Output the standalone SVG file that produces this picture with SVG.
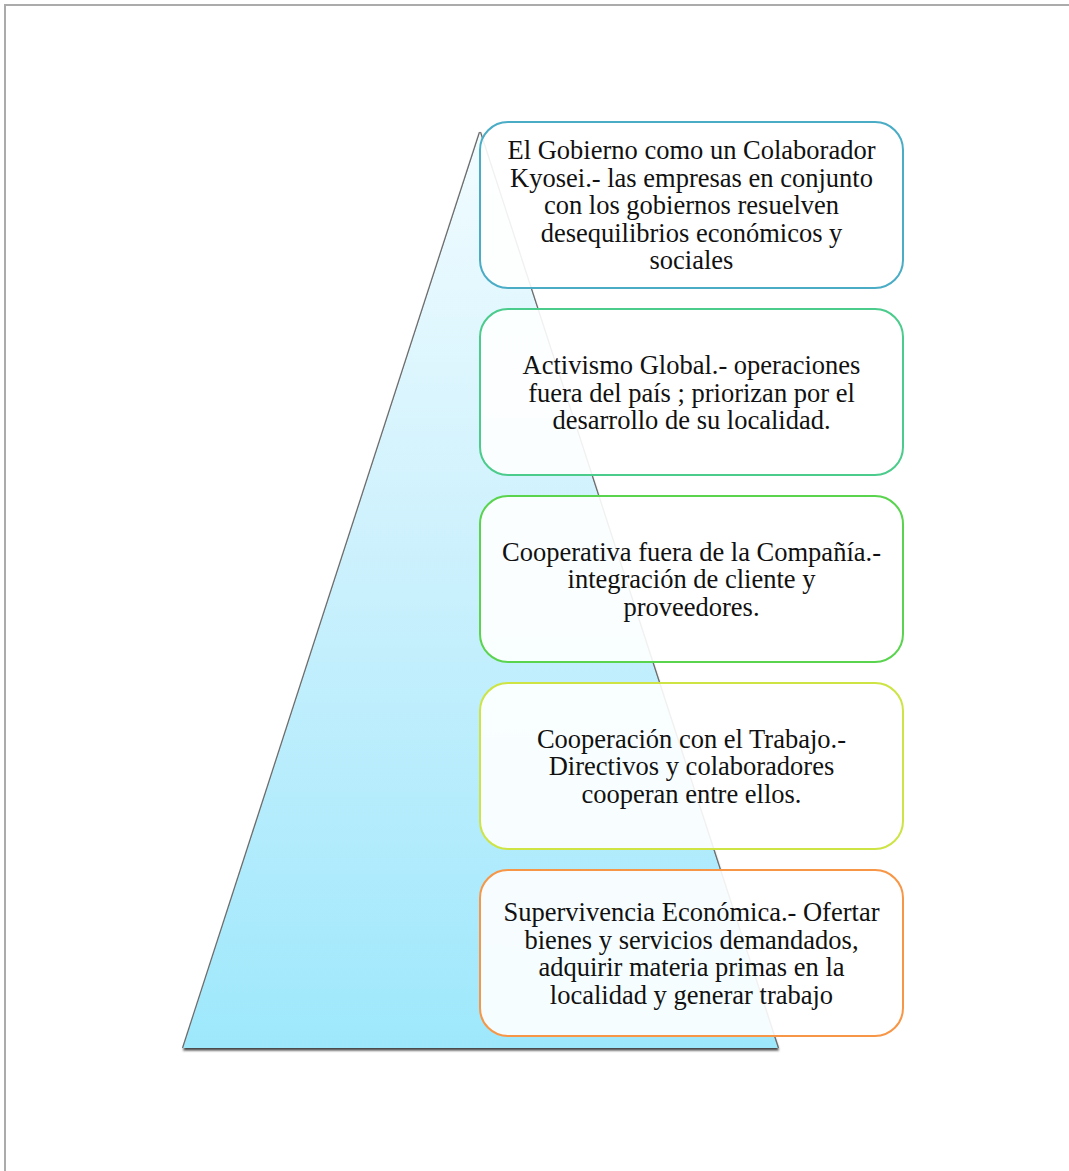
<svg xmlns="http://www.w3.org/2000/svg" width="1069" height="1171" viewBox="0 0 1069 1171">
<defs>
<linearGradient id="tri" x1="0" y1="0" x2="0" y2="1">
<stop offset="0" stop-color="#f2fcff"/>
<stop offset="0.5" stop-color="#c9f0fd"/>
<stop offset="1" stop-color="#9ee8fc"/>
</linearGradient>
<filter id="sh" x="-10%" y="-10%" width="120%" height="120%">
<feGaussianBlur stdDeviation="1"/>
</filter>
<style>
.box{fill:#ffffff;fill-opacity:0.9;stroke-width:2}
.t{font-family:"Liberation Serif","Times New Roman",serif;font-size:26.5px;fill:#111;text-anchor:middle}
.edge{stroke:#6a6a6a;stroke-width:1.2;fill:none}
</style>
</defs>
<rect width="1069" height="1171" fill="#fff"/>
<g id="page-border" stroke="#ababab" stroke-width="2" fill="none">
<line x1="4" y1="5" x2="1069" y2="5"/>
<line x1="5" y1="4" x2="5" y2="1171"/>
</g>
<g id="pyramid">
<polygon points="480,132 183,1049 779,1049" fill="#444" filter="url(#sh)" transform="translate(0,1.5)"/>
<polygon points="480,132 183,1048 778,1048" fill="url(#tri)"/>
<line class="edge" x1="479.5" y1="132" x2="182.5" y2="1048"/>
<line class="edge" x1="480.5" y1="132" x2="778.5" y2="1048" stroke="#555"/>
</g>
<g id="connectors"/>
<g id="node1">
<rect class="box" x="480" y="122" width="423" height="166" rx="28" stroke="#4bacc6"/>
<text class="t" x="691.5" y="159">El Gobierno como un Colaborador</text>
<text class="t" x="691.5" y="186.5">Kyosei.- las empresas en conjunto</text>
<text class="t" x="691.5" y="214">con los gobiernos resuelven</text>
<text class="t" x="691.5" y="241.5">desequilibrios económicos y</text>
<text class="t" x="691.5" y="269">sociales</text>
</g>
<g id="node2">
<rect class="box" x="480" y="309" width="423" height="166" rx="28" stroke="#4bcb8c"/>
<text class="t" x="691.5" y="374">Activismo Global.- operaciones</text>
<text class="t" x="691.5" y="401.5">fuera del país ; priorizan por el</text>
<text class="t" x="691.5" y="429">desarrollo de su localidad.</text>
</g>
<g id="node3">
<rect class="box" x="480" y="496" width="423" height="166" rx="28" stroke="#5ad44e"/>
<text class="t" x="691.5" y="560.5">Cooperativa fuera de la Compañía.-</text>
<text class="t" x="691.5" y="588">integración de cliente y</text>
<text class="t" x="691.5" y="615.5">proveedores.</text>
</g>
<g id="node4">
<rect class="box" x="480" y="683" width="423" height="166" rx="28" stroke="#cde444"/>
<text class="t" x="691.5" y="747.5">Cooperación con el Trabajo.-</text>
<text class="t" x="691.5" y="775">Directivos y colaboradores</text>
<text class="t" x="691.5" y="802.5">cooperan entre ellos.</text>
</g>
<g id="node5">
<rect class="box" x="480" y="870" width="423" height="166" rx="28" stroke="#f79646"/>
<text class="t" x="691.5" y="921">Supervivencia Económica.- Ofertar</text>
<text class="t" x="691.5" y="948.5">bienes y servicios demandados,</text>
<text class="t" x="691.5" y="976">adquirir materia primas en la</text>
<text class="t" x="691.5" y="1003.5">localidad y generar trabajo</text>
</g>
</svg>
